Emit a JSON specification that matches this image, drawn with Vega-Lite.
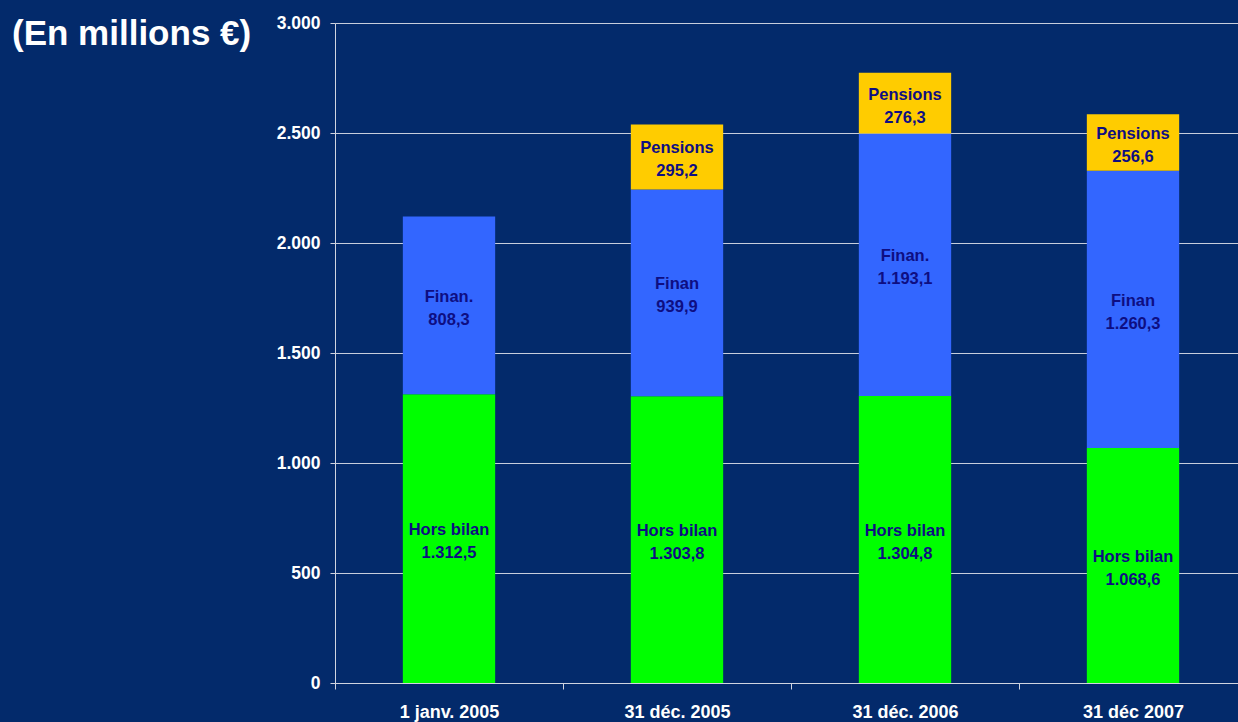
{
  "$schema": "https://vega.github.io/schema/vega-lite/v6.json",
  "width": 912,
  "height": 660,
  "autosize": "none",
  "padding": {"left": 335, "top": 23, "right": 0, "bottom": 39},
  "background": "#032A6B",
  "title": {
    "text": "(En millions €)",
    "anchor": "start",
    "frame": "group",
    "orient": "top",
    "dx": -323,
    "dy": 55,
    "offset": 0,
    "baseline": "middle",
    "fontSize": 35,
    "font": "Liberation Sans",
    "fontWeight": "bold",
    "color": "#FFFFFF"
  },
  "data": {
    "values": [
      {"date": "1 janv. 2005", "series": "Hors bilan", "label": "Hors bilan", "order": 1, "value": 1312.5},
      {"date": "1 janv. 2005", "series": "Finan", "label": "Finan.", "order": 2, "value": 808.3},
      {"date": "31 déc. 2005", "series": "Hors bilan", "label": "Hors bilan", "order": 1, "value": 1303.8},
      {"date": "31 déc. 2005", "series": "Finan", "label": "Finan", "order": 2, "value": 939.9},
      {"date": "31 déc. 2005", "series": "Pensions", "label": "Pensions", "order": 3, "value": 295.2},
      {"date": "31 déc. 2006", "series": "Hors bilan", "label": "Hors bilan", "order": 1, "value": 1304.8},
      {"date": "31 déc. 2006", "series": "Finan", "label": "Finan.", "order": 2, "value": 1193.1},
      {"date": "31 déc. 2006", "series": "Pensions", "label": "Pensions", "order": 3, "value": 276.3},
      {"date": "31 déc 2007", "series": "Hors bilan", "label": "Hors bilan", "order": 1, "value": 1068.6},
      {"date": "31 déc 2007", "series": "Finan", "label": "Finan", "order": 2, "value": 1260.3},
      {"date": "31 déc 2007", "series": "Pensions", "label": "Pensions", "order": 3, "value": 256.6}
    ]
  },
  "transform": [
    {"stack": "value", "groupby": ["date"], "sort": [{"field": "order", "order": "ascending"}], "as": ["v0", "v1"]},
    {"calculate": "(datum.v0 + datum.v1) / 2", "as": "mid"}
  ],
  "encoding": {
    "x": {
      "field": "date",
      "type": "nominal",
      "sort": ["1 janv. 2005", "31 déc. 2005", "31 déc. 2006", "31 déc 2007"],
      "scale": {"paddingInner": 0, "paddingOuter": 0},
      "axis": {
        "title": null,
        "labelAngle": 0,
        "tickBand": "extent",
        "tickSize": 6,
        "tickColor": "#D0D4E0",
        "domainColor": "#D0D4E0",
        "labelPadding": 14,
        "labelFont": "Liberation Sans",
        "labelFontSize": 18,
        "labelFontWeight": "bold",
        "labelColor": "#FFFFFF",
        "grid": false
      }
    }
  },
  "layer": [
    {
      "mark": {"type": "bar", "width": {"band": 0.405}},
      "encoding": {
        "y": {
          "field": "v0",
          "type": "quantitative",
          "title": null,
          "scale": {"domain": [0, 3000], "nice": false},
          "axis": {
            "values": [0, 500, 1000, 1500, 2000, 2500, 3000],
            "format": ",d",
            "grid": true,
            "gridColor": "#C8CEDC",
            "gridWidth": 1,
            "domainColor": "#D0D4E0",
            "tickColor": "#D0D4E0",
            "tickSize": 5,
            "labelPadding": 10,
            "labelFont": "Liberation Sans",
            "labelFontSize": 17.5,
            "labelFontWeight": "bold",
            "labelColor": "#FFFFFF"
          }
        },
        "y2": {"field": "v1"},
        "color": {
          "field": "series",
          "type": "nominal",
          "scale": {"domain": ["Hors bilan", "Finan", "Pensions"], "range": ["#00FF00", "#3366FF", "#FFCC00"]},
          "legend": null
        }
      }
    },
    {
      "mark": {"type": "text", "dy": -8.5, "font": "Liberation Sans", "fontSize": 16.5, "fontWeight": "bold", "color": "#0E0E82", "baseline": "middle"},
      "encoding": {
        "y": {"field": "mid", "type": "quantitative", "title": null},
        "text": {"field": "label"}
      }
    },
    {
      "mark": {"type": "text", "dy": 14.5, "font": "Liberation Sans", "fontSize": 16.5, "fontWeight": "bold", "color": "#0E0E82", "baseline": "middle"},
      "encoding": {
        "y": {"field": "mid", "type": "quantitative", "title": null},
        "text": {"field": "value", "format": ",.1f"}
      }
    }
  ],
  "config": {
    "view": {"stroke": null},
    "locale": {"number": {"decimal": ",", "thousands": ".", "grouping": [3], "currency": ["", " €"]}}
  }
}
